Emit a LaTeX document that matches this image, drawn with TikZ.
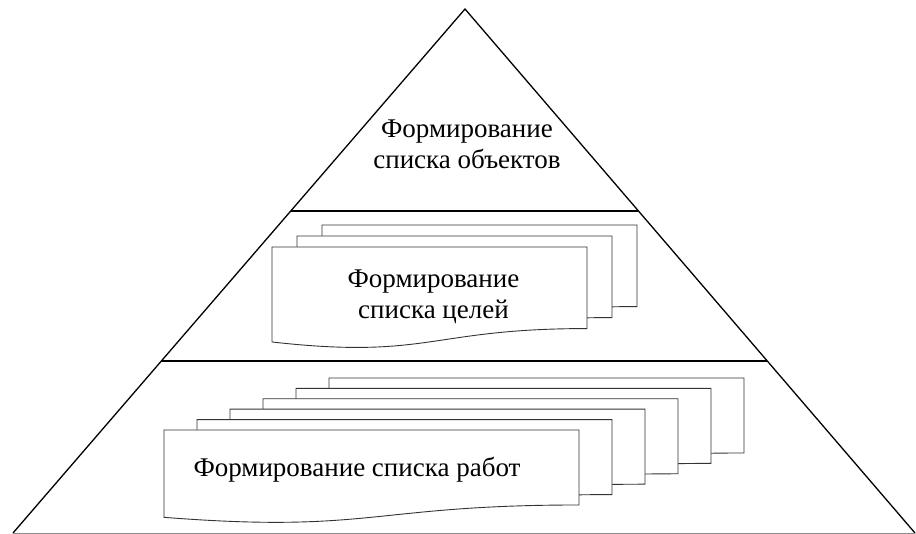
\documentclass[tikz,border=0pt]{standalone}
\usepackage{fontspec}
\setmainfont{Liberation Serif}
\usetikzlibrary{calc}
\newcommand\docshape[4]{%
  \draw[docline] (#1,#2) -- ({#1+#3},#2) -- ({#1+#3},{#2+0.802*#4})
    .. controls ({#1+0.5*#3},{#2+0.802*#4}) and ({#1+0.5*#3},{#2+1.108*#4}) ..
    (#1,{#2+0.934*#4}) -- cycle;}
\tikzset{
  docline/.style={draw=black!80, fill=white, line width=0.9pt},
  tri/.style={draw=black, line width=1.3pt, line cap=round, line join=miter},
  lbl/.style={font=\fontsize{27}{31}\selectfont, align=center, inner sep=0pt, text=black}
}
\begin{document}
\begin{tikzpicture}[x=1pt,y=-1pt]
\useasboundingbox (0,0) rectangle (916,534);
\coordinate (A) at (465,9);
\coordinate (BL) at (13,533);
\coordinate (BR) at (915,533);
% triangle
\draw[tri] (BL) -- (A) -- (BR);
\draw[draw=black!45, line width=1pt] (BL) -- (BR);
\coordinate (U1) at ($(A)!0.3855!(BL)$);
\coordinate (U2) at ($(A)!0.3855!(BR)$);
\coordinate (L1) at ($(A)!0.6718!(BL)$);
\coordinate (L2) at ($(A)!0.6718!(BR)$);
\draw[draw=black, line width=1.3pt] (U1) -- (U2);
\draw[draw=black, line width=1.2pt] (L1) -- (L2);
% top label
\node[lbl] (top) at (467,144) {Формирование\\списка объектов};
% middle documents
\foreach \k in {2,1,0}{
  \docshape{272+25*\k}{247-11*\k}{315}{101.7}
}
\node[lbl] (mid) at (433.5,297) {Формирование\\списка целей};
% bottom documents
\foreach \k in {5,4,3,2,1,0}{
  \docshape{164+33*\k}{430-10.4*\k}{415}{93.5}
}
\node[lbl, anchor=base] (bot) at (357,477) {Формирование списка работ};
\end{tikzpicture}
\end{document}
